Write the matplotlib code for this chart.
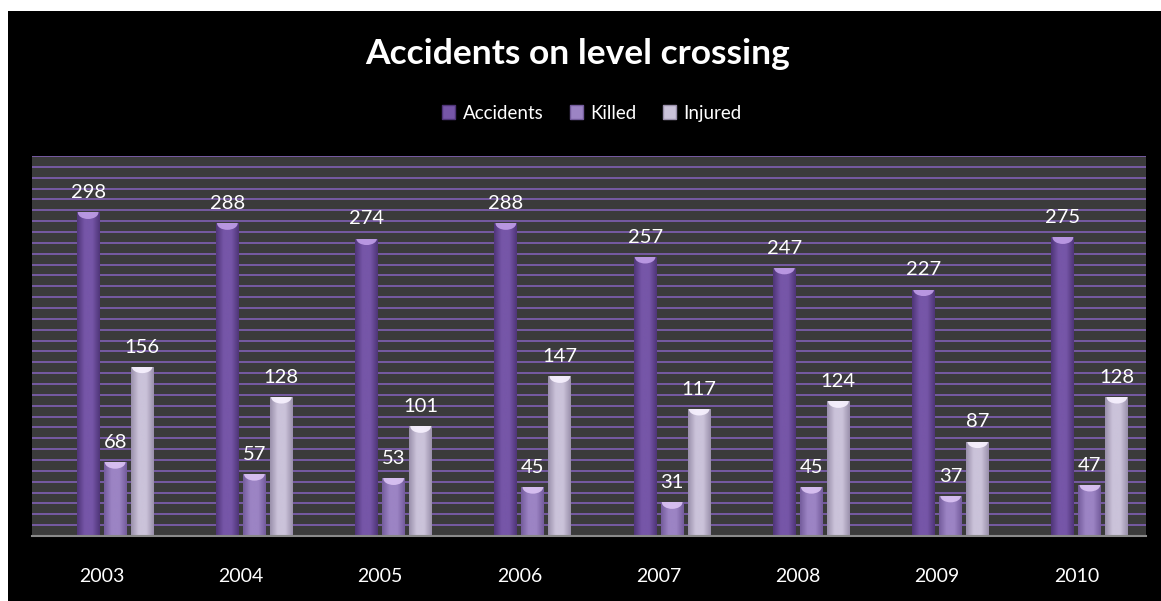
import numpy as np
import matplotlib
matplotlib.use("Agg")
import matplotlib.pyplot as plt
from matplotlib.colors import LinearSegmentedColormap
from matplotlib.patches import Rectangle, Ellipse

years = ["2003", "2004", "2005", "2006", "2007", "2008", "2009", "2010"]
accidents = [298, 288, 274, 288, 257, 247, 227, 275]
killed = [68, 57, 53, 45, 31, 45, 37, 47]
injured = [156, 128, 101, 147, 117, 124, 87, 128]
series_names = ["Accidents", "Killed", "Injured"]

# (edge, centre, cap) colours per series
palettes = [
    ("#4f3578", "#7656a8", "#c09ee8"),
    ("#745c9c", "#9c84c4", "#dcc4f4"),
    ("#9a90ab", "#cbc3da", "#f8f2ff"),
]

plt.rcParams["font.family"] = ["Lato", "DejaVu Sans"]

fig = plt.figure(figsize=(11.61, 6.01), dpi=100, facecolor="white")
# black chart area with a thin white margin top/left
fig.patches.append(Rectangle((8 / 1161, 0), 1, 1 - 11 / 601,
                             transform=fig.transFigure, facecolor="black",
                             edgecolor="none", zorder=-10))

ax = fig.add_axes([32 / 1161, 65 / 601, 1114 / 1161, 380 / 601])
ax.set_facecolor("#3b3b3b")

for yv in range(10, 351, 10):
    ax.axhline(yv, color="#8060b4", lw=1.2, zorder=1)

x = np.arange(len(years))
width = 0.165
step = 0.194
shift = 0.097

for k, vals in enumerate([accidents, killed, injured]):
    edge, mid, cap = palettes[k]
    cmap = LinearSegmentedColormap.from_list(f"c{k}", [edge, mid, mid, edge])
    grad = np.linspace(0, 1, 64).reshape(1, -1)
    pos = x + shift + (k - 1) * step
    bars = ax.bar(pos, vals, width=width, color=mid, zorder=2,
                  label=series_names[k])
    for b, v in zip(bars, vals):
        x0 = b.get_x()
        img = ax.imshow(grad, cmap=cmap, aspect="auto", zorder=3,
                        extent=[x0, x0 + width, 0, v], interpolation="bicubic")
        img.set_clip_path(b)
        el = Ellipse((x0 + width / 2, v), width * 0.9, 12, facecolor=cap,
                     edgecolor="none", alpha=0.9, zorder=4)
        ax.add_patch(el)
        el.set_clip_path(b)
        ax.annotate(str(v), (x0 + width / 2, v), xytext=(0, 8),
                    textcoords="offset points", ha="center", va="bottom",
                    color="white", fontsize=14.5, zorder=5)

ax.set_xlim(-0.5, len(years) - 0.5)
ax.set_ylim(0, 350)
ax.set_xticks(x)
ax.set_xticklabels(years, color="white", fontsize=14)
ax.tick_params(axis="x", length=0, pad=23)
ax.set_yticks([])
for s in ["left", "right", "top"]:
    ax.spines[s].set_visible(False)
ax.spines["bottom"].set_color("#8a8a8a")
ax.spines["bottom"].set_linewidth(1.5)
ax.spines["bottom"].set_zorder(6)

fig.text(578 / 1161, 1 - 54 / 601, "Accidents on level crossing",
         ha="center", va="center", color="white", fontsize=25.5,
         fontweight="bold")

handles = [Rectangle((0, 0), 1, 1, facecolor=p[1], edgecolor=p[0])
           for p in palettes]
leg = fig.legend(handles, series_names, loc="center",
                 bbox_to_anchor=(592 / 1161, 1 - 113 / 601), ncol=3,
                 frameon=False, fontsize=13.5, handlelength=0.7,
                 handleheight=0.7, handletextpad=0.4, columnspacing=1.4)
for t in leg.get_texts():
    t.set_color("white")

fig.savefig("out.png", dpi=100, facecolor=fig.get_facecolor())
